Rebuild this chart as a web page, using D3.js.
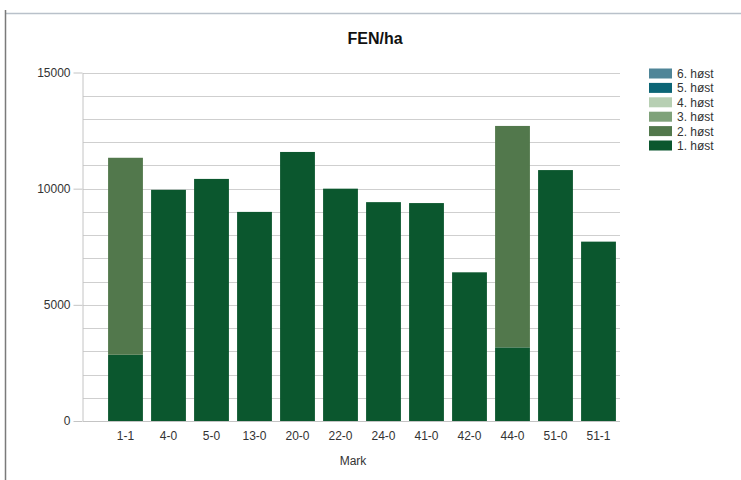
<!DOCTYPE html>
<html>
<head>
<meta charset="utf-8">
<script src="https://cdn.jsdelivr.net/npm/d3@7"></script>
<style>
  body { margin: 0; background: #fff; }
  text { font-family: "Liberation Sans", Arial, sans-serif; }
</style>
</head>
<body>
<div id="chart"></div>
<script>
// FEN/ha per mark, stacked by harvest (høst)

var marks = ["1-1", "4-0", "5-0", "13-0", "20-0", "22-0", "24-0", "41-0", "42-0", "44-0", "51-0", "51-1"];
var host1 = [2850, 9950, 10420, 9000, 11580, 10000, 9420, 9380, 6400, 3170, 10800, 7720];
var host2 = [8480, 0, 0, 0, 0, 0, 0, 0, 0, 9530, 0, 0];
var host3 = [0, 0, 0, 0, 0, 0, 0, 0, 0, 0, 0, 0];
var host4 = [0, 0, 0, 0, 0, 0, 0, 0, 0, 0, 0, 0];
var host5 = [0, 0, 0, 0, 0, 0, 0, 0, 0, 0, 0, 0];
var host6 = [0, 0, 0, 0, 0, 0, 0, 0, 0, 0, 0, 0];
var seriesNames = ["1. høst", "2. høst", "3. høst", "4. høst", "5. høst", "6. høst"];
var seriesColors = ["#0b572e", "#52784c", "#7fa27a", "#b7cfb3", "#0c6576", "#4f8598"];
var yTicks = [0, 5000, 10000, 15000];

var W = 741, H = 480;

var svg = d3.select("#chart").append("svg")
  .attr("width", W)
  .attr("height", H);

// outer frame (top and left edges only)
svg.append("line")
  .attr("x1", 5).attr("x2", W).attr("y1", 13.5).attr("y2", 13.5)
  .attr("stroke", "#b9c1ca").attr("stroke-width", 1.5);
svg.append("line")
  .attr("x1", 5.5).attr("x2", 5.5).attr("y1", 10).attr("y2", H)
  .attr("stroke", "#7a7a7a").attr("stroke-width", 1.5);

var x = d3.scaleBand().domain(marks).range([104, 620]).paddingInner(0.19).paddingOuter(0.095);
var y = d3.scaleLinear().domain([0, 15000]).range([421, 72.5]);

// table for stack
var table = marks.map(function(m, i) {
  return {mark: m, s0: host1[i], s1: host2[i], s2: host3[i], s3: host4[i], s4: host5[i], s5: host6[i]};
});
var stack = d3.stack().keys(["s0", "s1", "s2", "s3", "s4", "s5"])(table);

// gridlines every 1000
svg.append("g")
  .selectAll("line")
  .data(d3.range(1000, 15001, 1000))
  .enter().append("line")
  .attr("x1", 83).attr("x2", 620)
  .attr("y1", function(d) { return Math.round(y(d)) + 0.5; })
  .attr("y2", function(d) { return Math.round(y(d)) + 0.5; })
  .attr("stroke", "#cfcfcf");

// y axis
var yAxis = svg.append("g")
  .attr("transform", "translate(82.5,0)")
  .call(d3.axisLeft(y).tickValues(yTicks).tickSize(9).tickSizeOuter(0).tickPadding(3).tickFormat(d3.format("d")));
yAxis.select(".domain").attr("stroke", "#c4c4c4");
yAxis.selectAll(".tick line").attr("stroke", "#c4c4c4");
yAxis.selectAll("text").attr("font-size", 12).attr("fill", "#333")
  .attr("font-family", "Liberation Sans, Arial, sans-serif");

// bottom baseline
svg.append("line")
  .attr("x1", 83).attr("x2", 620).attr("y1", 421.5).attr("y2", 421.5)
  .attr("stroke", "#c4c4c4");

// bars
svg.append("g")
  .selectAll("g")
  .data(stack)
  .enter().append("g")
  .attr("fill", function(d, i) { return seriesColors[i]; })
  .selectAll("rect")
  .data(function(d) { return d.filter(function(p) { return p[1] > p[0]; }); })
  .enter().append("rect")
  .attr("x", function(d) { return x(d.data.mark); })
  .attr("width", x.bandwidth())
  .attr("y", function(d) { return y(d[1]); })
  .attr("height", function(d) { return y(d[0]) - y(d[1]); });

// x labels
var xAxis = svg.append("g")
  .attr("transform", "translate(0,421)")
  .call(d3.axisBottom(x).tickSize(0).tickPadding(10));
xAxis.select(".domain").remove();
xAxis.selectAll("text").attr("font-size", 12).attr("fill", "#333")
  .attr("font-family", "Liberation Sans, Arial, sans-serif");

// title
svg.append("text")
  .attr("x", 375).attr("y", 44)
  .attr("text-anchor", "middle")
  .attr("font-size", 16).attr("font-weight", "bold").attr("fill", "#111")
  .text("FEN/ha");

// axis title
svg.append("text")
  .attr("x", 353).attr("y", 465)
  .attr("text-anchor", "middle")
  .attr("font-size", 12).attr("fill", "#333")
  .text("Mark");

// legend (reverse order, 6. høst on top)
var legend = svg.append("g")
  .selectAll("g")
  .data(d3.range(seriesNames.length).reverse())
  .enter().append("g")
  .attr("transform", function(d, i) { return "translate(649," + (68.5 + i * 14.4) + ")"; });

legend.append("rect")
  .attr("width", 23).attr("height", 10)
  .attr("fill", function(d) { return seriesColors[d]; });

legend.append("text")
  .attr("x", 28).attr("y", 9.5)
  .attr("font-size", 12).attr("fill", "#333")
  .text(function(d) { return seriesNames[d]; });
</script>
</body>
</html>
